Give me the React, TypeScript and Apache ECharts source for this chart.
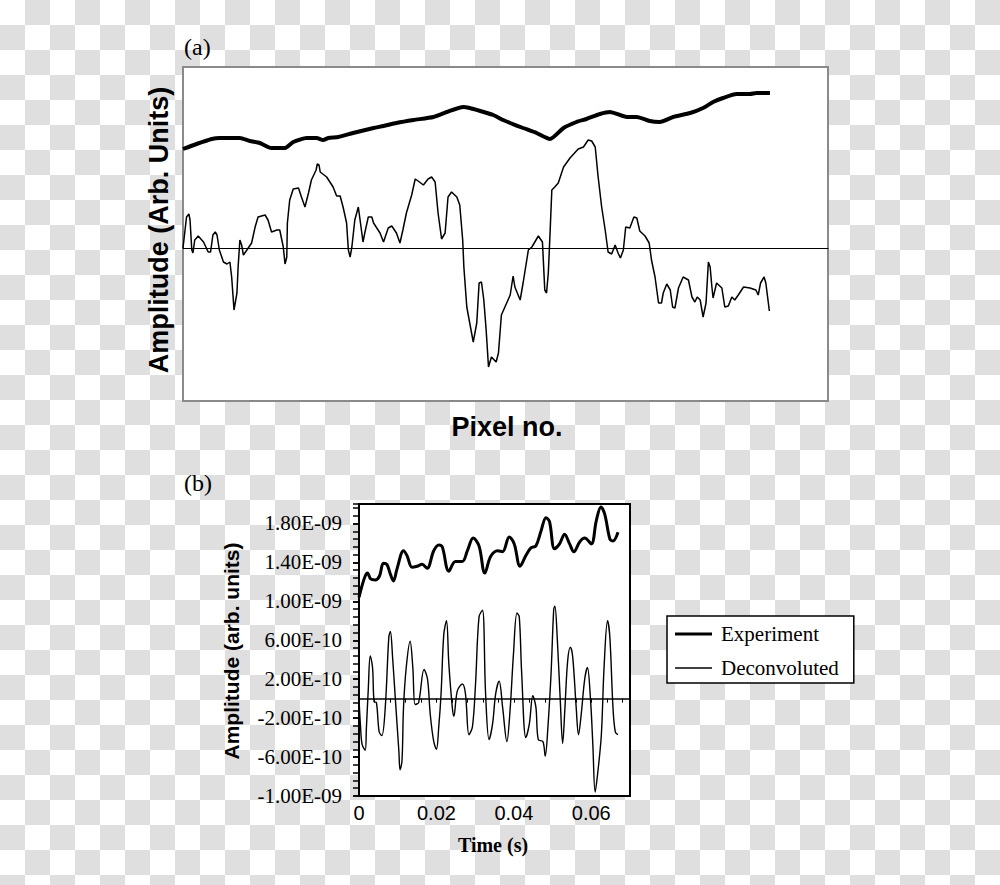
import React, { useEffect, useRef } from "react";
import * as echarts from "echarts";

const SERIF = "'Liberation Serif', 'Times New Roman', serif";
const SANS = "'Liberation Sans', Arial, sans-serif";

// Panel (a): [pixel no., amplitude (arb. units)]
const panelAExperiment: [number, number][] = [
  [0, 9.9], [23, 10.4], [49, 10.9], [63, 11.0], [97, 11.0], [114, 10.7], [131, 10.5], [151, 10.0],
  [174, 10.0], [188, 10.6], [211, 11.0], [228, 11.0], [239, 10.8], [248, 11.0], [265, 11.1], [290, 11.5],
  [325, 12.0], [342, 12.2], [364, 12.5], [393, 12.8], [427, 13.1], [450, 13.6], [478, 14.1], [489, 14.0],
  [507, 13.7], [529, 13.3], [546, 12.8], [558, 12.5], [580, 12.0], [603, 11.5], [626, 10.9], [649, 12.0],
  [671, 12.6], [688, 12.9], [711, 13.4], [728, 13.6], [757, 13.1], [774, 13.1], [796, 12.7], [813, 12.6],
  [836, 13.1], [865, 13.5], [887, 14.0], [904, 14.6], [921, 15.0], [944, 15.4], [967, 15.4], [978, 15.5],
  [1001, 15.5],
];

const panelADeconvoluted: [number, number][] = [
  [0, 0.0], [6, 3.1], [10, 3.4], [12, 2.8], [15, -0.2], [17, -0.5], [20, 0.8], [26, 1.2], [35, 0.6],
  [43, -0.4], [47, -0.4], [51, 1.3], [55, 1.6], [58, 1.3], [62, -0.2], [69, -1.4], [75, -1.6], [80, -1.4],
  [83, -2.9], [87, -6.2], [92, -4.5], [94, -1.9], [97, 0.8], [100, 0.3], [103, -0.7], [109, -0.2],
  [117, 0.5], [123, 2.1], [128, 3.1], [140, 3.3], [145, 2.8], [151, 1.6], [160, 1.8], [165, 1.8],
  [171, 0.1], [174, -1.6], [177, -0.9], [178, 2.5], [182, 4.8], [188, 5.9], [197, 6.0], [202, 5.1],
  [208, 4.1], [214, 5.5], [219, 6.8], [227, 7.8], [229, 8.4], [232, 8.3], [234, 7.6], [245, 7.1],
  [256, 6.1], [262, 5.2], [268, 5.2], [273, 4.1], [279, 2.5], [282, -0.2], [285, -0.9], [288, 0.1],
  [293, 2.8], [299, 4.1], [302, 2.8], [307, 0.6], [310, 1.5], [316, 3.1], [322, 3.1], [325, 2.5],
  [336, 1.5], [342, 0.6], [350, 2.0], [356, 2.2], [364, 1.5], [370, 0.5], [375, 1.8], [381, 3.5],
  [390, 5.3], [396, 6.9], [401, 6.7], [410, 6.3], [418, 6.9], [424, 7.1], [430, 6.6], [435, 3.5],
  [441, 0.9], [447, 1.5], [452, 5.1], [458, 5.6], [467, 5.1], [472, 4.3], [477, 0.8], [479, -1.9],
  [484, -5.9], [489, -7.5], [495, -9.4], [501, -7.5], [505, -3.5], [509, -3.4], [513, -5.2], [517, -8.2],
  [521, -11.9], [526, -10.9], [534, -11.4], [538, -10.5], [543, -6.7], [549, -5.9], [558, -4.7],
  [563, -2.8], [566, -3.9], [575, -5.2], [580, -3.5], [589, -0.2], [595, 0.1], [606, 1.2], [613, 0.6],
  [617, -4.2], [620, -4.5], [623, -2.5], [626, 1.5], [629, 5.8], [634, 6.1], [640, 6.5], [649, 8.1],
  [660, 9.0], [674, 9.9], [683, 10.1], [691, 10.8], [697, 10.7], [703, 10.1], [708, 7.1], [714, 4.1],
  [720, 1.8], [725, -0.4], [731, -0.6], [737, 0.3], [742, -0.5], [746, -1.0], [751, -0.2], [755, 2.1],
  [762, 2.0], [769, 3.1], [774, 3.0], [779, 1.7], [788, 1.2], [795, 0.5], [799, -1.2], [805, -2.9],
  [811, -5.5], [816, -5.5], [819, -4.5], [825, -3.6], [831, -4.2], [835, -5.9], [839, -6.0], [845, -4.0],
  [853, -2.9], [862, -3.2], [868, -4.9], [873, -5.4], [877, -4.9], [882, -5.2], [887, -6.9], [892, -5.5],
  [896, -1.4], [899, -1.9], [902, -3.9], [904, -5.0], [910, -3.5], [919, -4.0], [924, -5.9], [930, -5.8],
  [936, -4.9], [941, -5.2], [947, -4.7], [956, -3.9], [967, -4.0], [977, -4.2], [981, -4.7], [985, -3.5],
  [991, -2.9], [994, -3.5], [1000, -6.3],
];

// Panel (b): [time (s), amplitude (arb. units)]
const experiment: [number, number][] = [
  [0.0, 10.4e-10], [0.0007, 11.5e-10], [0.0016, 12.6e-10], [0.0022, 12.9e-10], [0.003, 12.3e-10],
  [0.0042, 12.2e-10], [0.0053, 12.6e-10], [0.0063, 13.9e-10], [0.0072, 13.8e-10], [0.0081, 12.8e-10],
  [0.0089, 12.1e-10], [0.0098, 13.3e-10], [0.0115, 15.2e-10], [0.0124, 14.7e-10], [0.0137, 13.5e-10],
  [0.015, 13.6e-10], [0.0163, 13.8e-10], [0.0176, 13.4e-10], [0.0193, 15.2e-10], [0.0206, 15.8e-10],
  [0.0215, 15.6e-10], [0.0232, 13.1e-10], [0.0249, 14.1e-10], [0.0267, 14.1e-10], [0.028, 15.2e-10],
  [0.0295, 16.5e-10], [0.031, 15.7e-10], [0.0325, 12.9e-10], [0.034, 14.6e-10], [0.0358, 15.2e-10],
  [0.0371, 15.1e-10], [0.0388, 16.6e-10], [0.0401, 15.9e-10], [0.0416, 13.6e-10], [0.0431, 14.7e-10],
  [0.0444, 15.5e-10], [0.0457, 15.7e-10], [0.047, 17.2e-10], [0.0483, 18.6e-10], [0.0492, 18.2e-10],
  [0.0505, 15.4e-10], [0.0518, 15.9e-10], [0.0531, 16.9e-10], [0.0544, 15.9e-10], [0.0555, 15.1e-10],
  [0.057, 16.1e-10], [0.0583, 16.5e-10], [0.06, 15.9e-10], [0.0613, 18.3e-10], [0.0625, 19.7e-10],
  [0.0635, 18.9e-10], [0.0648, 16.4e-10], [0.0656, 16.2e-10], [0.0669, 17.1e-10],
];

const deconvoluted: [number, number][] = [
  [0.0, 0.0], [0.0004, -2.9e-10], [0.0008, -4.7e-10], [0.0016, -5.3e-10], [0.0019, -3.1e-10],
  [0.0024, 1.0e-10], [0.0029, 4.4e-10], [0.0035, 3.2e-10], [0.0039, -0.3e-10], [0.0045, -0.4e-10],
  [0.0052, -3.4e-10], [0.0059, -3.8e-10], [0.0068, -0.8e-10], [0.0077, 6.3e-10], [0.0081, 6.9e-10],
  [0.0087, 4.1e-10], [0.0094, -0.1e-10], [0.0103, -5.4e-10], [0.0106, -7.3e-10], [0.0111, -6.4e-10],
  [0.0115, -0.9e-10], [0.0122, 3.2e-10], [0.0132, 5.9e-10], [0.0139, 3.2e-10], [0.0145, -0.6e-10],
  [0.0154, -0.4e-10], [0.0168, 3.0e-10], [0.0177, 2.0e-10], [0.0184, -1.6e-10], [0.0193, -4.4e-10],
  [0.02, -5.2e-10], [0.0206, -2.9e-10], [0.0212, 0.5e-10], [0.0219, 6.6e-10], [0.0226, 8.0e-10],
  [0.0232, 3.6e-10], [0.0241, -0.9e-10], [0.0245, -1.8e-10], [0.0254, 0.8e-10], [0.0267, 1.5e-10],
  [0.0275, 0.5e-10], [0.0284, -3.7e-10], [0.0293, -2.9e-10], [0.0301, 1.5e-10], [0.031, 8.4e-10],
  [0.0319, 9.1e-10], [0.0327, 0.5e-10], [0.0336, -4.2e-10], [0.0345, -2.6e-10], [0.0353, 0.5e-10],
  [0.0362, 1.8e-10], [0.0371, -0.9e-10], [0.0382, -4.4e-10], [0.039, -1.3e-10], [0.0399, 4.6e-10],
  [0.0408, 8.8e-10], [0.0414, 8.4e-10], [0.042, 2.8e-10], [0.0431, -4.0e-10], [0.044, -2.6e-10],
  [0.0449, 0.3e-10], [0.0457, -0.9e-10], [0.0463, -4.2e-10], [0.0475, -4.4e-10], [0.0481, -5.9e-10],
  [0.0488, -2.9e-10], [0.0496, 2.5e-10], [0.0503, 9.2e-10], [0.0506, 9.5e-10], [0.0512, 6.3e-10],
  [0.052, -0.3e-10], [0.0526, -4.6e-10], [0.0532, -0.9e-10], [0.0539, 3.9e-10], [0.0546, 5.3e-10],
  [0.0552, 4.3e-10], [0.0561, -0.9e-10], [0.0567, -3.7e-10], [0.0574, -1.6e-10], [0.0583, 2.0e-10],
  [0.059, 3.2e-10], [0.0598, -0.1e-10], [0.0604, -4.7e-10], [0.061, -9.6e-10], [0.0617, -7.5e-10],
  [0.0626, -3.7e-10], [0.0633, 3.2e-10], [0.0642, 8.0e-10], [0.0648, 6.3e-10], [0.0656, -0.9e-10],
  [0.0662, -3.4e-10], [0.0669, -3.7e-10],
];

const seriesNames = ["Experiment", "Deconvoluted"];

function sciLabel(v: number): string {
  if (Math.abs(v) < 1e-15) return "0.00E+00";
  const [m, e] = v.toExponential(2).split("e");
  const n = parseInt(e, 10);
  const sign = n < 0 ? "-" : "+";
  const abs = Math.abs(n);
  return `${m}E${sign}${abs < 10 ? "0" + abs : abs}`;
}

export default function App() {
  const ref = useRef<HTMLDivElement>(null);

  useEffect(() => {
    if (!ref.current) return;
    const chart = echarts.init(ref.current, undefined, { renderer: "svg" });
    const black = "#000";
    const option: any = {
      animation: false,
      grid: [
        { left: 183, top: 67, width: 645, height: 334, show: true, borderColor: "#8a8a8a", borderWidth: 2, backgroundColor: "#fff" },
        { left: 359, top: 504, width: 271, height: 292, show: true, borderColor: black, borderWidth: 2, backgroundColor: "#fff" },
      ],
      xAxis: [
        {
          gridIndex: 0, type: "value", min: 0, max: 1100,
          axisLine: { show: true, onZero: true, lineStyle: { color: black, width: 1 } },
          axisTick: { show: false }, axisLabel: { show: false }, splitLine: { show: false },
        },
        {
          gridIndex: 1, type: "value", min: 0, max: 0.07, interval: 0.02, position: "bottom",
          axisLine: { show: false, onZero: false }, axisTick: { show: false },
          axisLabel: {
            show: true, showMaxLabel: false, margin: 7, fontFamily: SANS, fontSize: 20, color: black,
            formatter: (v: number) => (v === 0 ? "0" : v > 0.065 ? "" : v.toFixed(2)),
          },
          splitLine: { show: false },
        },
        {
          gridIndex: 1, type: "value", min: 0, max: 0.07, interval: 0.004, position: "bottom",
          axisLine: { show: true, onZero: true, lineStyle: { color: black, width: 1.5 } },
          axisTick: { show: true, inside: false, length: 4, lineStyle: { color: black, width: 1 } },
          axisLabel: { show: false }, splitLine: { show: false },
        },
      ],
      yAxis: [
        { gridIndex: 0, type: "value", min: -15.3, max: 18.1, show: false, axisLine: { onZero: false } },
        {
          gridIndex: 1, type: "value", min: -1e-9, max: 2e-9, interval: 4e-10, position: "left",
          axisLine: { show: false, onZero: false },
          axisTick: { show: true, length: 6, lineStyle: { color: black, width: 1.5 } },
          axisLabel: {
            show: true, showMaxLabel: false, margin: 17, fontFamily: SERIF, fontSize: 21, color: black,
            formatter: (v: number) => (v > 1.9e-9 ? "" : sciLabel(v)),
          },
          splitLine: { show: false },
        },
        {
          gridIndex: 1, type: "value", min: -1e-9, max: 2e-9, interval: 8e-11, position: "left",
          axisLine: { show: false, onZero: false },
          axisTick: { show: true, length: 6, lineStyle: { color: black, width: 1.5 } },
          axisLabel: { show: false }, splitLine: { show: false },
        },
      ],
      legend: {
        left: 667, top: 616, orient: "vertical",
        data: [
          { name: seriesNames[0], icon: "path://M0 0H37V3H0Z" },
          { name: seriesNames[1], icon: "path://M0 0H37V1.4H0Z" },
        ],
        itemWidth: 37, itemHeight: 14, itemGap: 10,
        padding: [6, 15, 3, 8],
        backgroundColor: "#fff", borderColor: black, borderWidth: 1.5, borderRadius: 0,
        itemStyle: { color: black, borderWidth: 0 },
        textStyle: { fontFamily: SERIF, fontSize: 21, color: black, lineHeight: 24, padding: [0, 0, 0, 4] },
        selectedMode: false,
      },
      graphic: [
        { type: "text", x: 184, y: 47, style: { text: "(a)", fontFamily: SERIF, fontSize: 24, fill: black, align: "left", verticalAlign: "middle" } },
        { type: "text", x: 184, y: 483, style: { text: "(b)", fontFamily: SERIF, fontSize: 24, fill: black, align: "left", verticalAlign: "middle" } },
        { type: "text", x: 159, y: 230, rotation: Math.PI / 2, style: { text: "Amplitude (Arb. Units)", fontFamily: SANS, fontWeight: "bold", fontSize: 27, fill: black, align: "center", verticalAlign: "middle" } },
        { type: "text", x: 507, y: 427, style: { text: "Pixel no.", fontFamily: SANS, fontWeight: "bold", fontSize: 27, fill: black, align: "center", verticalAlign: "middle" } },
        { type: "text", x: 231, y: 651, rotation: Math.PI / 2, style: { text: "Amplitude (arb. units)", fontFamily: SANS, fontWeight: "bold", fontSize: 21, fill: black, align: "center", verticalAlign: "middle" } },
        { type: "text", x: 493, y: 845, style: { text: "Time (s)", fontFamily: SERIF, fontWeight: "bold", fontSize: 20, fill: black, align: "center", verticalAlign: "middle" } },
      ],
      series: [
        {
          type: "line", xAxisIndex: 0, yAxisIndex: 0, data: panelAExperiment, symbol: "none", smooth: 0.2,
          lineStyle: { color: black, width: 4 }, z: 3,
        },
        {
          type: "line", xAxisIndex: 0, yAxisIndex: 0, data: panelADeconvoluted, symbol: "none",
          lineStyle: { color: black, width: 1.5 }, z: 3,
        },
        {
          name: seriesNames[0], type: "line", xAxisIndex: 1, yAxisIndex: 1, data: experiment, symbol: "none", smooth: 0.35,
          lineStyle: { color: black, width: 3 }, itemStyle: { color: black, borderWidth: 0 }, z: 3,
        },
        {
          name: seriesNames[1], type: "line", xAxisIndex: 1, yAxisIndex: 1, data: deconvoluted, symbol: "none", smooth: 0.35,
          lineStyle: { color: black, width: 1.4 }, itemStyle: { color: black, borderWidth: 0 }, z: 3,
        },
      ],
    };
    chart.setOption(option);
    return () => chart.dispose();
  }, []);

  return (
    <div
      style={{
        position: "absolute", left: 0, top: 0, width: 1000, height: 885, overflow: "hidden",
        background: "repeating-conic-gradient(#dfdfdf 0% 25%, #ffffff 0% 50%) 0 0 / 50px 50px",
      }}
    >
      <div ref={ref} style={{ width: 1000, height: 885 }} />
    </div>
  );
}
